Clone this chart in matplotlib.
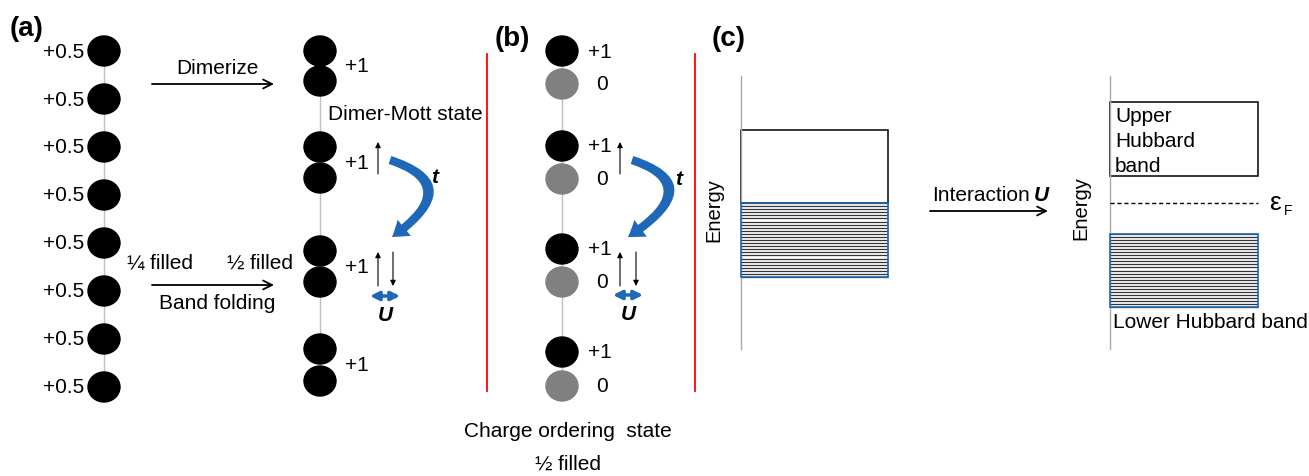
import numpy as np
import matplotlib.pyplot as plt
from matplotlib.patches import Ellipse, Rectangle, FancyArrowPatch
from matplotlib.path import Path

plt.rcParams['font.family'] = ['Liberation Sans', 'DejaVu Sans']

BLUE = '#1f68b8'
GRAY_SITE = '#808080'
CHAIN = '#c0c0c0'
FS = 15

# (a) uniform chain: site heights and charges
uniform_y = [52, 100, 148, 196, 244, 292, 340, 388]
uniform_q = ['+0.5'] * 8

# (a) dimerized chain: upper/lower site of each dimer
dimer_top = [52, 148, 252, 350]
dimer_bot = [82, 179, 283, 382]
dimer_q = ['+1', '+1', '+1', '+1']

# (b) charge ordered chain: occupied / empty site
co_top = [52, 147, 250, 353]
co_bot = [85, 180, 283, 387]
co_q_top = ['+1', '+1', '+1', '+1']
co_q_bot = ['0', '0', '0', '0']

# (c) band edges (top, bottom) in energy, screen units
band_empty = (131, 204)
band_full = (204, 278)
uhb = (103, 177)
lhb = (235, 308)
fermi = 204
n_levels = 25

fig = plt.figure(figsize=(13.09, 4.77), dpi=100)
ax = fig.add_axes([0, 0, 1, 1])
ax.set_xlim(0, 1309)
ax.set_ylim(477, 0)
ax.axis('off')


def site(x, y, c='k'):
    ax.add_patch(Ellipse((x, y), 32, 30, color=c, zorder=3))


def chain(x, y0, y1):
    ax.plot([x, x], [y0, y1], color=CHAIN, lw=1, zorder=1)


def spin(x, up, y0=143, y1=175):
    tip, tail = (y0, y1) if up else (y1, y0)
    ax.annotate('', xy=(x, tip), xytext=(x, tail),
                arrowprops=dict(arrowstyle='-|>', lw=0.8, color='k', mutation_scale=8,
                                shrinkA=0, shrinkB=0))


def hopping(x0, y0, ctrl, x1, y1, tx, ty):
    # quadratic curve bulging to the right, ending down-left
    p = Path([(x0, y0), ctrl, (x1, y1)], [Path.MOVETO, Path.CURVE3, Path.CURVE3])
    ax.add_patch(FancyArrowPatch(path=p,
                                 arrowstyle='simple,head_width=1.5,head_length=1.1,tail_width=0.6',
                                 mutation_scale=10, color=BLUE, lw=0, zorder=4))
    ax.text(tx, ty, 't', fontsize=FS, fontweight='bold', style='italic', ha='center', va='center')


def onsite(xc, y, ty):
    ax.annotate('', xy=(xc - 15, y), xytext=(xc + 15, y),
                arrowprops=dict(arrowstyle='<|-|>', lw=2.5, color=BLUE, mutation_scale=13,
                                shrinkA=0, shrinkB=0))
    ax.text(xc, ty, 'U', fontsize=FS, fontweight='bold', style='italic', ha='center', va='center')


def big_arrow(x0, x1, y):
    ax.annotate('', xy=(x1, y), xytext=(x0, y),
                arrowprops=dict(arrowstyle='->', lw=1.3, color='k', mutation_scale=16,
                                shrinkA=0, shrinkB=0))


# ---- panel (a)
ax.text(10, 29, '(a)', fontsize=20, fontweight='bold', va='center')
chain(104, uniform_y[0], uniform_y[-1])
for y, q in zip(uniform_y, uniform_q):
    site(104, y)
    ax.text(84, y, q, fontsize=FS, ha='right', va='center')

big_arrow(152, 274, 85)
ax.text(217, 69, 'Dimerize', fontsize=FS, ha='center', va='center')
big_arrow(152, 274, 286)
ax.text(160, 263, '¼ filled', fontsize=FS, ha='center', va='center')
ax.text(260, 263, '½ filled', fontsize=FS, ha='center', va='center')
ax.text(217, 304, 'Band folding', fontsize=FS, ha='center', va='center')

chain(320, dimer_top[0], dimer_bot[-1])
for yt, yb, q in zip(dimer_top, dimer_bot, dimer_q):
    site(320, yt)
    site(320, yb)
    ax.text(345, (yt + yb) / 2, q, fontsize=FS, ha='left', va='center')
ax.text(405, 115, 'Dimer-Mott state', fontsize=FS, ha='center', va='center')
spin(378, True, 143, 175)
spin(378, True, 253, 287)
spin(393, False, 253, 287)
hopping(390, 161, (466, 186), 392, 238, 435, 178)
onsite(385, 297, 316)

ax.plot([487, 487], [55, 392], color='red', lw=1.3)

# ---- panel (b)
ax.text(495, 39, '(b)', fontsize=20, fontweight='bold', va='center')
chain(562, co_top[0], co_bot[-1])
for yt, yb, qt, qb in zip(co_top, co_bot, co_q_top, co_q_bot):
    site(562, yt, 'k')
    site(562, yb, GRAY_SITE)
    ax.text(600, yt, qt, fontsize=FS, ha='center', va='center')
    ax.text(602, yb, qb, fontsize=FS, ha='center', va='center')
spin(620, True, 143, 175)
spin(620, True, 253, 287)
spin(636, False, 253, 287)
hopping(632, 161, (708, 186), 628, 238, 679, 180)
onsite(628, 296, 315)
ax.text(568, 432, 'Charge ordering  state', fontsize=FS, ha='center', va='center')
ax.text(568, 464, '½ filled', fontsize=FS, ha='center', va='center')

ax.plot([695, 695], [55, 392], color='red', lw=1.3)


# ---- panel (c)
def levels(x0, x1, top, bot):
    ax.hlines(np.linspace(top, bot, n_levels), x0, x1, color='#333333', lw=0.9)
    ax.add_patch(Rectangle((x0, top), x1 - x0, bot - top, fill=False, ec=BLUE, lw=1.2, zorder=3))


ax.text(712, 39, '(c)', fontsize=20, fontweight='bold', va='center')
ax.plot([741, 741], [77, 350], color='#aaaaaa', lw=1)
ax.text(714, 210, 'Energy', fontsize=14.5, rotation=90, ha='center', va='center')
ax.add_patch(Rectangle((741, band_empty[0]), 147, band_empty[1] - band_empty[0],
                       fill=False, ec='k', lw=1.1))
levels(741, 888, *band_full)

big_arrow(930, 1048, 212)
ax.text(1030, 196, 'Interaction', fontsize=FS, ha='right', va='center')
ax.text(1034, 196, 'U', fontsize=FS, fontweight='bold', style='italic', ha='left', va='center')

ax.plot([1110, 1110], [77, 350], color='#aaaaaa', lw=1)
ax.text(1081, 208, 'Energy', fontsize=14.5, rotation=90, ha='center', va='center')
ax.add_patch(Rectangle((1110, uhb[0]), 148, uhb[1] - uhb[0], fill=False, ec='k', lw=1.1))
for y, s in zip([117, 142, 167], ['Upper', 'Hubbard', 'band']):
    ax.text(1115, y, s, fontsize=FS, ha='left', va='center')
ax.plot([1110, 1258], [fermi, fermi], color='k', lw=1, ls=(0, (3, 2)))
ax.text(1269, fermi - 1, 'ε', fontsize=19, ha='left', va='center')
ax.text(1284, fermi + 7, 'F', fontsize=10, ha='left', va='center')
levels(1110, 1258, *lhb)
ax.text(1113, 323, 'Lower Hubbard band', fontsize=FS, ha='left', va='center')

fig.savefig('out.png', dpi=100)
